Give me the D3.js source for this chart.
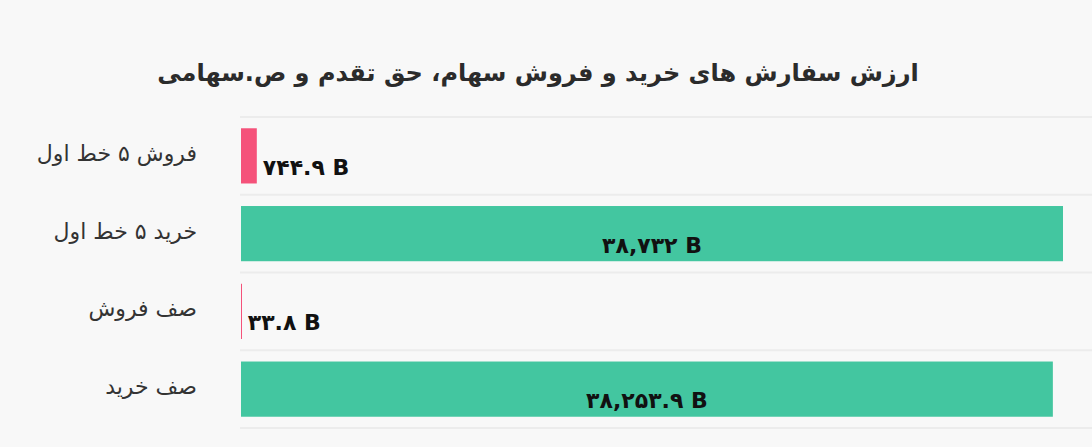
<!DOCTYPE html>
<html>
<head>
<meta charset="utf-8">
<script src="https://cdn.jsdelivr.net/npm/d3@7"></script>
<style>
  body { margin: 0; background: #f8f8f8; }
  svg { display: block; font-family: 'DejaVu Sans', sans-serif; }
</style>
</head>
<body>
<div id="chart"></div>
<script>
// ************ Data ************
var titleText = 'ارزش سفارش های خرید و فروش سهام، حق تقدم و ص.سهامی';
var categories = ['فروش ۵ خط اول', 'خرید ۵ خط اول', 'صف فروش', 'صف خرید'];
var values = [744.9, 38732, 33.8, 38253.9];
var barColors = ['#f5527a', '#43c6a0', '#f5527a', '#43c6a0'];

var width = 1092, height = 447;

var svg = d3.select('#chart').append('svg')
            .attr('width', width)
            .attr('height', height);

svg.append('rect')
   .attr('width', width)
   .attr('height', height)
   .style('fill', '#f8f8f8');

// ************ Scales ************
var x = d3.scaleLinear()
          .domain([0, d3.max(values)])
          .range([241, 1063]);

var y = d3.scaleBand()
          .domain(categories)
          .range([117, 428])
          .paddingInner(0.29)
          .paddingOuter(0.145);

var step = y.step();

// persian digits
function fa(s) {
  return s.replace(/[0-9]/g, function(d) { return '۰۱۲۳۴۵۶۷۸۹'[+d]; });
}
var fmt = d3.format(',');

// ************ Title ************
svg.append('text')
   .attr('x', 538)
   .attr('y', 81)
   .attr('text-anchor', 'middle')
   .style('direction', 'rtl')
   .style('font-size', '24px')
   .style('font-weight', 'bold')
   .style('fill', '#2b2b2b')
   .text(titleText);

// ************ Grid ************
var gridY = categories.map(function(c) { return y(c) - step * 0.145; });
gridY.push(y(categories[categories.length - 1]) + y.bandwidth() + step * 0.145);

svg.selectAll('.grid')
   .data(gridY)
   .enter().append('line')
   .attr('x1', 240)
   .attr('x2', width)
   .attr('y1', function(d) { return d; })
   .attr('y2', function(d) { return d; })
   .style('stroke', '#ececec')
   .style('stroke-width', 2);

// ************ Bars ************
var rows = categories.map(function(c, i) { return { cat: c, value: values[i], color: barColors[i] }; });

svg.selectAll('.bar')
   .data(rows)
   .enter().append('rect')
   .attr('x', x(0))
   .attr('y', function(d) { return y(d.cat); })
   .attr('width', function(d) { return Math.max(1, x(d.value) - x(0)); })
   .attr('height', y.bandwidth())
   .style('fill', function(d) { return d.color; });

// category labels
svg.selectAll('.cat')
   .data(rows)
   .enter().append('text')
   .attr('x', 197)
   .attr('y', function(d) { return y(d.cat) + y.bandwidth() / 2 + 5; })
   .attr('text-anchor', 'end')
   .style('font-size', '22px')
   .style('fill', '#333')
   .text(function(d) { return d.cat; });

// value labels
svg.selectAll('.val')
   .data(rows)
   .enter().append('text')
   .attr('x', function(d) {
     var w = x(d.value) - x(0);
     return w > 150 ? x(0) + w / 2 : x(d.value) + 6;
   })
   .attr('y', function(d) { return y(d.cat) + y.bandwidth() / 2 + 19; })
   .attr('text-anchor', function(d) { return (x(d.value) - x(0)) > 150 ? 'middle' : 'start'; })
   .style('font-size', '22px')
   .style('font-weight', 'bold')
   .style('fill', '#111')
   .text(function(d) { return fa(fmt(d.value)) + ' B'; });
</script>
</body>
</html>
